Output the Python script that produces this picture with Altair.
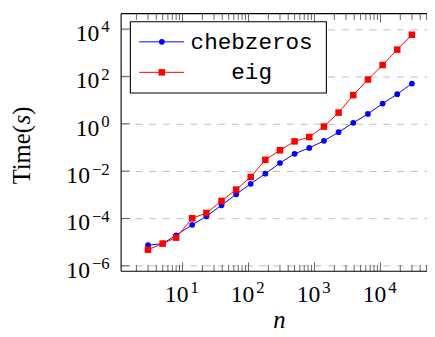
import altair as alt
import pandas as pd

# ---------------- data ----------------
n_values = [3, 5, 8, 14, 23, 39, 65, 108, 180, 300, 500, 834, 1392, 2321,
            3873, 6461, 10780, 17980, 30000]
chebzeros_time = [7.4e-6, 8.7e-6, 1.95e-5, 5.4e-5, 1.23e-4, 3.6e-4, 1.05e-3,
                  2.9e-3, 7.8e-3, 0.022, 0.054, 0.095, 0.19, 0.44, 1.1, 2.6,
                  7.1, 17.8, 50]
eig_time = [4.8e-6, 8.7e-6, 1.55e-5, 1.02e-4, 1.7e-4, 5.5e-4, 1.66e-3,
            5.6e-3, 0.030, 0.076, 0.18, 0.275, 0.76, 2.95, 16.2, 74, 302,
            1350, 5750]
series_names = ["chebzeros", "eig"]
series_colors = ["#0000ff", "#ff0000"]
series_shapes = ["circle", "square"]
series_sizes = [34, 44]

tick_base = "10"
x_major = [10, 100, 1000, 10000]
x_major_exp = ["1", "2", "3", "4"]
x_minor = [2, 3, 4, 5, 6, 7, 8, 9,
           20, 30, 40, 50, 60, 70, 80, 90,
           200, 300, 400, 500, 600, 700, 800, 900,
           2000, 3000, 4000, 5000, 6000, 7000, 8000, 9000,
           20000, 30000, 40000, 50000]
y_major = [1e-6, 1e-4, 1e-2, 1, 100, 10000]
y_major_exp = ["−6", "−4", "−2", "0", "2", "4"]
x_title = "n"
y_title_parts = ["Time(", "s", ")"]

x_domain = [1.172, 50800]
y_domain = [5.86e-7, 44800]

W, H = 311, 262
SERIF = "Liberation Serif"
MONO = "Liberation Mono"
TICK_COLOR = "#555555"
LBL = 24      # label font size
EXP = 17      # exponent font size

xscale = alt.Scale(type="log", domain=x_domain, nice=False)
yscale = alt.Scale(type="log", domain=y_domain, nice=False)

y_axis = alt.Axis(values=y_major, labels=False, ticks=False, tickSize=0,
                  domain=False, grid=True, gridColor="#bfbfbf", gridDash=[7, 7],
                  gridWidth=1, title=None)


def X(field):
    return alt.X(field, scale=xscale, axis=None)


def Y(field):
    return alt.Y(field, scale=yscale, axis=y_axis)


def exp_width(s):
    # approximate advance width of an exponent string (Liberation Serif metrics)
    return sum((0.564 if c == "−" else 0.5) * EXP for c in s)


layers = []

# tick marks (inward, pgfplots style)
xmaj = pd.DataFrame({"v": x_major, "e": x_major_exp})
xmin = pd.DataFrame({"v": x_minor})
ymaj = pd.DataFrame({"v": y_major})
for dfv, ln in [(xmaj, 9), (xmin, 6.5)]:
    layers.append(alt.Chart(dfv).mark_rule(color=TICK_COLOR, strokeWidth=0.9).encode(
        x=X("v:Q"), y=alt.value(H), y2=alt.value(H - ln)))
    layers.append(alt.Chart(dfv).mark_rule(color=TICK_COLOR, strokeWidth=0.9).encode(
        x=X("v:Q"), y=alt.value(0), y2=alt.value(ln)))
layers.append(alt.Chart(ymaj).mark_rule(color=TICK_COLOR, strokeWidth=0.9).encode(
    y=Y("v:Q"), x=alt.value(0), x2=alt.value(9)))

# x tick labels: 10 with superscript exponent
layers.append(alt.Chart(xmaj).mark_text(
    font=SERIF, fontSize=LBL, align="right", baseline="alphabetic", dx=6,
    color="black", text=tick_base).encode(x=X("v:Q"), y=alt.value(H + 31.7)))
layers.append(alt.Chart(xmaj).mark_text(
    font=SERIF, fontSize=EXP, align="left", baseline="alphabetic", dx=8,
    color="black").encode(x=X("v:Q"), y=alt.value(H + 22.5), text="e:N"))

# y tick labels, right-aligned as whole
for v, e in zip(y_major, y_major_exp):
    dv = pd.DataFrame({"v": [v], "e": [e]})
    layers.append(alt.Chart(dv).mark_text(
        font=SERIF, fontSize=EXP, align="right", baseline="alphabetic", dy=3.5,
        color="black").encode(x=alt.value(-11.6), y=Y("v:Q"), text="e:N"))
    layers.append(alt.Chart(dv).mark_text(
        font=SERIF, fontSize=LBL, align="right", baseline="alphabetic", dy=12,
        color="black", text=tick_base).encode(
        x=alt.value(-11.6 - exp_width(e) - 2), y=Y("v:Q")))

# frame (left, top, bottom; right edge lies outside the picture)
one = pd.DataFrame({"a": [0]})
frame = alt.Chart(one).mark_rule(color="black", strokeWidth=1.1)
layers.append(frame.encode(x=alt.value(0), x2=alt.value(0), y=alt.value(0), y2=alt.value(H)))
layers.append(frame.encode(x=alt.value(0), x2=alt.value(W), y=alt.value(0), y2=alt.value(0)))
layers.append(frame.encode(x=alt.value(0), x2=alt.value(W), y=alt.value(H), y2=alt.value(H)))

# data
for name, times, col, shp, sz in zip(series_names, [chebzeros_time, eig_time],
                                     series_colors, series_shapes, series_sizes):
    d = pd.DataFrame({"n": n_values, "t": times})
    base = alt.Chart(d).encode(x=X("n:Q"), y=Y("t:Q"))
    layers.append(base.mark_line(color=col, strokeWidth=1))
    layers.append(base.mark_point(color=col, fill=col, filled=True, opacity=1,
                                  shape=shp, size=sz, strokeWidth=0))

# legend
layers.append(alt.Chart(one).mark_rect(fill="white", stroke="black", strokeWidth=1.1).encode(
    x=alt.value(9.4), x2=alt.value(208.7), y=alt.value(8.3), y2=alt.value(80.7)))
for i, (name, col, shp, sz) in enumerate(zip(series_names, series_colors,
                                             series_shapes, series_sizes)):
    ry = 28.7 + 31 * i
    layers.append(alt.Chart(one).mark_rule(color=col, strokeWidth=1).encode(
        x=alt.value(18.4), x2=alt.value(64), y=alt.value(ry), y2=alt.value(ry)))
    layers.append(alt.Chart(one).mark_point(color=col, fill=col, filled=True, opacity=1,
                                            shape=shp, size=sz, strokeWidth=0).encode(
        x=alt.value(41.4), y=alt.value(ry)))
    layers.append(alt.Chart(pd.DataFrame({"label": [name]})).mark_text(
        font=MONO, fontSize=23, align="center", baseline="middle", color="black").encode(
        x=alt.value(132.7), y=alt.value(ry), text="label:N"))

# axis titles
layers.append(alt.Chart(pd.DataFrame({"label": [x_title]})).mark_text(
    font=SERIF, fontSize=25, fontStyle="italic", align="center",
    baseline="alphabetic", color="black").encode(
    x=alt.value(161), y=alt.value(320), text="label:N"))
part_y = [173.6, 112.5, 102.8]
part_style = ["normal", "italic", "normal"]
for txt, py, st in zip(y_title_parts, part_y, part_style):
    layers.append(alt.Chart(pd.DataFrame({"label": [txt]})).mark_text(
        font=SERIF, fontSize=25, fontStyle=st, angle=270, align="left",
        baseline="alphabetic", color="black").encode(
        x=alt.value(-92.3), y=alt.value(py), text="label:N"))

chart = alt.layer(*layers).properties(
    width=W, height=H, autosize="none",
    padding={"left": 115, "top": 3, "right": 0, "bottom": 60},
    background="white",
).configure_view(stroke=None)

chart.save("out.html", embed_options={"renderer": "svg", "actions": False})
